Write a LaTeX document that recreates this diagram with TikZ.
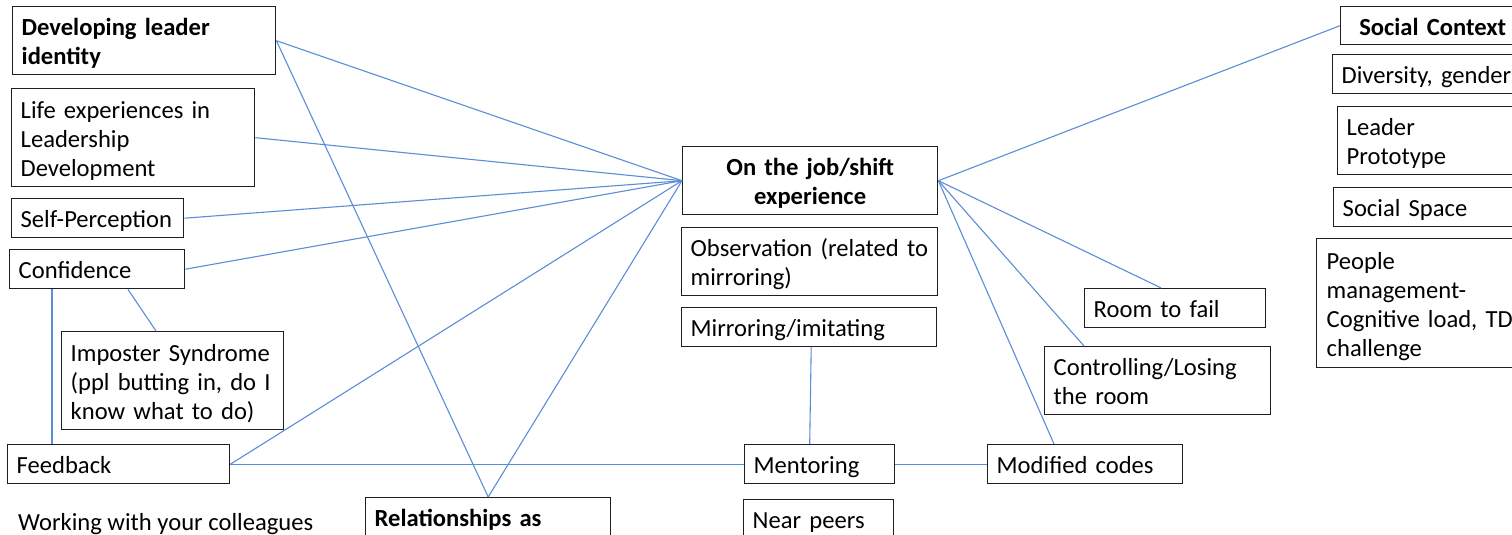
\documentclass[tikz,border=0pt]{standalone}
\usepackage{fontspec}
\setmainfont{Carlito}
\definecolor{conn}{RGB}{91,142,215}
\definecolor{boxline}{RGB}{30,30,30}
\begin{document}
\begin{tikzpicture}[x=1pt,y=-1pt,
  box/.style={draw=boxline, line width=1.4pt, anchor=north west, align=left,
    inner xsep=9pt, inner ysep=0pt, text height=21pt, text depth=2pt,
    font=\fontsize{24.6}{29}\selectfont},
  cbox/.style={box, align=center},
  two/.style={text depth=31pt},
  three/.style={text depth=60pt},
  four/.style={text depth=89pt},
  link/.style={draw=conn, line width=1.1pt},
  plain/.style={font=\fontsize{24.6}{29}\selectfont, inner sep=0pt}]
\useasboundingbox (0,0) rectangle (1512,535);
\fill[white] (0,0) rectangle (1512,535);
\clip (0,0) rectangle (1512,535);

% left column
\node[box, two, minimum width=263pt, minimum height=68pt, text width=245pt] (dev) at (12,6) {\bfseries Developing leader\\\bfseries identity};
\node[box, three, minimum width=243pt, minimum height=98pt, text width=225pt] (life) at (11,88) {Life experiences in\\Leadership\\Development};
\node[box, minimum width=172pt, minimum height=39pt, text width=154pt] (self) at (11,198) {Self-Perception};
\node[box, minimum width=175pt, minimum height=39pt, text width=157pt] (conf) at (9,249) {Confidence};
\node[box, three, minimum width=222pt, minimum height=98pt, text width=204pt] (imp) at (61,331) {Imposter Syndrome\\(ppl butting in, do I\\know what to do)};
\node[box, minimum width=222pt, minimum height=39pt, text width=204pt] (feed) at (7,444) {Feedback};
\node[plain, anchor=base west] (work) at (18,530) {Working with your colleagues};
\node[box, two, minimum width=245pt, minimum height=68pt, text width=227pt] (rel) at (365,497) {\bfseries Relationships as\\\strut};

% centre
\node[cbox, two, minimum width=255pt, minimum height=68pt, text width=237pt] (job) at (682,146) {\bfseries On the job/shift\\\bfseries experience};
\node[box, two, minimum width=256pt, minimum height=68pt, text width=238pt] (obs) at (681,227) {Observation (related to\\mirroring)};
\node[box, minimum width=255pt, minimum height=39pt, text width=237pt] (mirr) at (681,307) {Mirroring/imitating};
\node[box, minimum width=150pt, minimum height=39pt, text width=132pt] (ment) at (744,444) {Mentoring};
\node[box, minimum width=150pt, minimum height=39pt, text width=132pt] (near) at (743,499) {Near peers};
\node[box, minimum width=195pt, minimum height=39pt, text width=177pt] (mod) at (987,444) {Modified codes};
\node[box, two, minimum width=226pt, minimum height=68pt, text width=208pt] (ctrl) at (1044,346) {Controlling/Losing\\the room};
\node[box, minimum width=181pt, minimum height=39pt, text width=163pt] (room) at (1084,288) {Room to fail};

% right column
\node[cbox, minimum width=184pt, minimum height=38pt, text width=166pt] (soc) at (1340,6) {\bfseries Social Context};
\node[box, minimum width=200pt, minimum height=39pt, text width=182pt] (div) at (1332,54) {Diversity, gender};
\node[box, two, minimum width=195pt, minimum height=68pt, text width=177pt] (lead) at (1337,106) {Leader\\Prototype};
\node[box, minimum width=200pt, minimum height=39pt, text width=182pt] (space) at (1333,187) {Social Space};
\node[box, four, minimum width=210pt, minimum height=129pt, text width=190pt, inner xsep=10pt] (people) at (1316,238) {People\\management-\\Cognitive load, TD\\challenge};

% connectors
\draw[link] (dev.east) -- (job.west);
\draw[link] (dev.east) -- (rel.north);
\draw[link] (life.east) -- (job.west);
\draw[link] (self.east) -- (job.west);
\draw[link] (conf.east) -- (job.west);
\draw[link] (feed.east) -- (job.west);
\draw[link] (rel.north) -- (job.west);
\draw[link] ([xshift=119pt]conf.south west) -- ([xshift=95pt]imp.north west);
\draw[link] ([xshift=43pt]conf.south west) -- ([xshift=45pt]feed.north west);
\draw[link] (feed.east) -- (ment.west);
\draw[link] ([xshift=2pt]mirr.south) -- ([xshift=-10pt]ment.north);
\draw[link] (ment.east) -- (mod.west);
\draw[link] (job.east) -- (soc.west);
\draw[link] (job.east) -- ([xshift=-14pt]room.north);
\draw[link] (job.east) -- ([xshift=40pt]ctrl.north west);
\draw[link] (job.east) -- ([xshift=67pt]mod.north west);
\end{tikzpicture}
\end{document}
